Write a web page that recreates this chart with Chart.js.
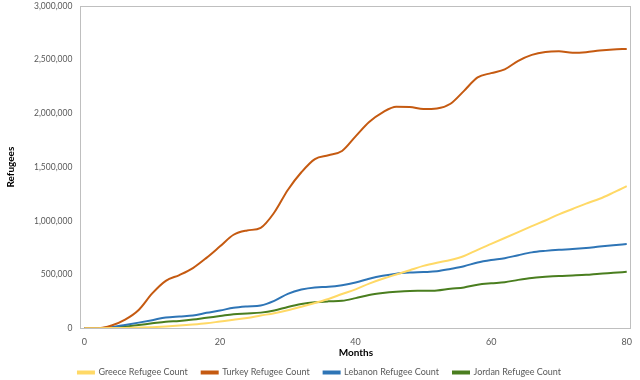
<!DOCTYPE html>
<html>
<head>
<meta charset="utf-8">
<script src="https://cdn.jsdelivr.net/npm/chart.js@4/dist/chart.umd.min.js"></script>
<style>
  body { margin: 0; background: #fff; }
  #wrap { width: 640px; height: 380px; position: relative; }
</style>
</head>
<body>
<div id="wrap"><canvas id="chart"></canvas></div>
<script>
// months since start (every second month)
const months = [0, 2, 4, 6, 8, 10, 12, 14, 16, 18, 20, 22, 24, 26, 28, 30, 32, 34, 36, 38, 40,
  42, 44, 46, 48, 50, 52, 54, 56, 58, 60, 62, 64, 66, 68, 70, 72, 74, 76, 78, 80];

// refugee counts, in thousands
const greece = [0, 0, 1, 3, 6, 10, 16, 24, 34, 46, 62, 78, 95, 118, 140, 167, 200, 235, 272, 318, 362,
  415, 460, 500, 540, 580, 610, 635, 672, 730, 785, 840, 895, 950, 1003, 1060, 1110, 1160, 1205, 1262, 1323];
const turkey = [0, 0, 25, 80, 170, 324, 441, 495, 560, 655, 762, 870, 910, 935, 1077, 1287, 1452, 1575, 1610, 1650, 1786,
  1920, 2010, 2062, 2060, 2040, 2045, 2090, 2210, 2335, 2375, 2410, 2490, 2545, 2572, 2578, 2565, 2570, 2585, 2595, 2600];
const lebanon = [0, 2, 10, 30, 52, 75, 100, 110, 118, 143, 165, 190, 203, 212, 255, 320, 360, 380, 385, 400, 425,
  460, 488, 508, 518, 523, 530, 552, 577, 612, 635, 652, 680, 706, 720, 730, 737, 747, 760, 772, 783];
const jordan = [0, 1, 5, 15, 30, 45, 60, 68, 80, 97, 113, 130, 137, 145, 165, 198, 225, 242, 250, 255, 280,
  310, 328, 340, 347, 348, 352, 368, 380, 405, 418, 428, 450, 468, 478, 486, 491, 497, 508, 516, 525];

const seriesNames = ["Greece Refugee Count", "Turkey Refugee Count", "Lebanon Refugee Count", "Jordan Refugee Count"];
const seriesColors = ["#FFD966", "#C55A11", "#2E75B6", "#4A7E1F"];
const yTicks = [0, 500000, 1000000, 1500000, 2000000, 2500000, 3000000];
const xTicks = [0, 20, 40, 60, 80];

const toPoints = arr => months.map((m, i) => ({ x: m, y: arr[i] * 1000 }));

// plot area frame like the spreadsheet chart
const frame = {
  id: "frame",
  afterDraw(chart) {
    const { ctx, chartArea: a } = chart;
    ctx.save();
    ctx.strokeStyle = "#BFBFBF";
    ctx.lineWidth = 1;
    ctx.strokeRect(Math.round(a.left) + 0.5, Math.round(a.top) + 0.5,
      Math.round(a.right - a.left) - 1, Math.round(a.bottom - a.top));
    ctx.restore();
  }
};

Chart.defaults.font.family = "Lato, 'Liberation Sans', sans-serif";
Chart.defaults.font.size = 9;
Chart.defaults.color = "#595959";

const data = [greece, turkey, lebanon, jordan];

new Chart(document.getElementById("chart"), {
  type: "line",
  data: {
    datasets: data.map((arr, i) => ({
      label: seriesNames[i],
      data: toPoints(arr),
      borderColor: seriesColors[i],
      backgroundColor: seriesColors[i],
      borderWidth: 2,
      pointRadius: 0,
      cubicInterpolationMode: "monotone"
    }))
  },
  options: {
    responsive: true,
    maintainAspectRatio: false,
    animation: false,
    layout: { padding: { top: 0, right: 6, left: 5, bottom: -7 } },
    scales: {
      x: {
        type: "linear",
        min: -0.6,
        max: 80.7,
        grid: { display: false, drawTicks: false },
        border: { display: false },
        afterBuildTicks: s => { s.ticks = xTicks.map(v => ({ value: v })); },
        ticks: { padding: 8, includeBounds: false },
        title: { display: true, text: "Months", color: "#000", font: { size: 10, weight: "bold" }, padding: { top: -8, bottom: -5 } }
      },
      y: {
        min: 0,
        max: 3000000,
        grid: { display: false, drawTicks: false },
        border: { display: false },
        afterBuildTicks: s => { s.ticks = yTicks.map(v => ({ value: v })); },
        afterFit: s => { s.paddingTop = 6; s.paddingBottom = 0; },
        ticks: { padding: 8, font: { size: 8.5 }, callback: v => v.toLocaleString("en-US") },
        title: { display: true, text: "Refugees", color: "#000", font: { size: 10, weight: "bold" }, padding: { top: 0, bottom: 9 } }
      }
    },
    plugins: {
      legend: {
        position: "bottom",
        labels: { boxWidth: 16, boxHeight: 2, padding: 14, color: "#595959" }
      },
      tooltip: { enabled: false }
    }
  },
  plugins: [frame]
});
</script>
</body>
</html>
